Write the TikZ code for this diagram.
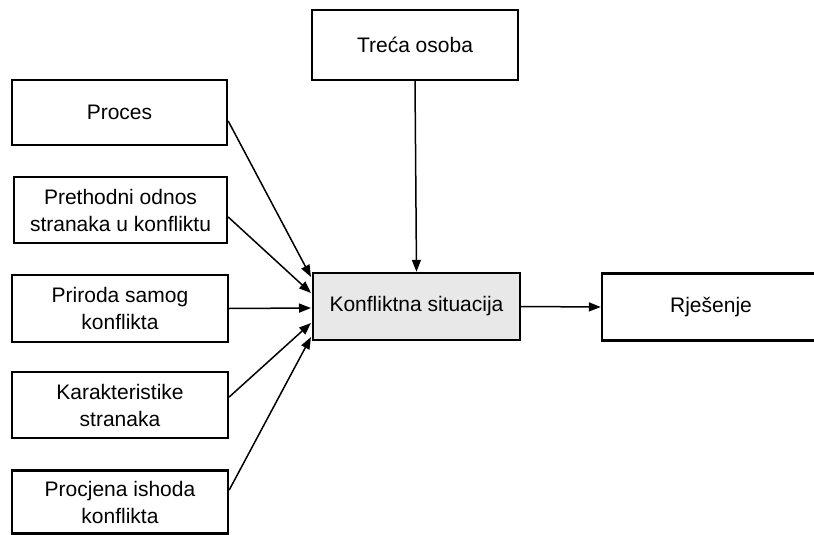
\documentclass[tikz,border=0pt]{standalone}
\usepackage{fontspec}
\setmainfont{Liberation Sans}
\usetikzlibrary{arrows.meta}
\begin{document}
\begin{tikzpicture}[x=1pt,y=-1pt,
  box/.style={draw=black,line width=2.4pt,fill=white,align=center,inner sep=0pt,
    font=\fontsize{21}{27}\selectfont},
  hub/.style={box,fill=black!9},
  arr/.style={line width=1.5pt,-{Triangle[length=12pt,width=9pt]}}]
\useasboundingbox[fill=white] (0,0) rectangle (814,535);
\node[box,minimum width=215pt,minimum height=65pt] (proc) at (119.5,112.5) {Proces};
\node[box,minimum width=213pt,minimum height=66pt] (preth) at (120.5,210) {Prethodni odnos\\stranaka u konfliktu};
\node[box,minimum width=216pt,minimum height=67pt] (prir) at (120,308.5) {Priroda samog\\konflikta};
\node[box,minimum width=216pt,minimum height=66pt] (kar) at (120,405) {Karakteristike\\stranaka};
\node[box,minimum width=216pt,minimum height=63pt] (proc2) at (120,502) {Procjena ishoda\\konflikta};
\node[box,minimum width=206pt,minimum height=70pt] (treca) at (415,45) {Treća osoba};
\node[hub,minimum width=207pt,minimum height=67pt] (konf) at (416.5,306.5) {Konfliktna situacija};
\node[box,minimum width=218pt,minimum height=67pt] (rjes) at (711,307) {Rješenje};
\coordinate (t1) at (311,277);
\coordinate (t2) at (311,293);
\coordinate (t3) at (311,308);
\coordinate (t4) at (311,323);
\coordinate (t5) at (311,337);
\draw[arr] (proc.east |- 0,121) -- (t1);
\draw[arr] (preth.east |- 0,217) -- (t2);
\draw[arr] (prir.east) -- (t3);
\draw[arr] (kar.east |- 0,397) -- (t4);
\draw[arr] (proc2.east |- 0,490) -- (t5);
\draw[arr] (treca.south) -- (konf.north);
\draw[arr] (konf.east) -- (rjes.west);
\end{tikzpicture}
\end{document}
